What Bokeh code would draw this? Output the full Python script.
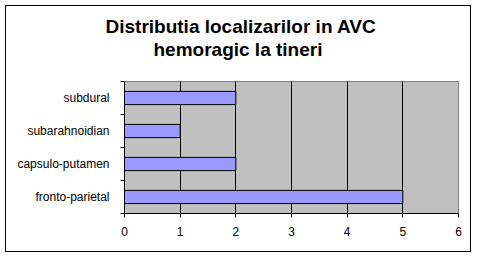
from bokeh.plotting import figure
from bokeh.models import Range1d, FixedTicker, Title, ColumnDataSource
from bokeh.embed import file_html
from bokeh.resources import INLINE

categories = ["fronto-parietal", "capsulo-putamen", "subarahnoidian", "subdural"]
values = [5, 2, 1, 2]
x_ticks = [0, 1, 2, 3, 4, 5, 6]
title_lines = ["Distributia localizarilor in AVC", "hemoragic la tineri"]

FONT = "Liberation Sans"

pos = [i + 0.5 for i in range(len(categories))]
src = ColumnDataSource(dict(y=pos, v=values, cat=categories))

p = figure(width=466, height=247, output_backend="svg", toolbar_location=None,
           x_range=Range1d(0, 6), y_range=Range1d(0, len(categories)),
           min_border_left=118, min_border_right=14, min_border_top=75, min_border_bottom=40,
           background_fill_color="#C0C0C0", border_fill_color="white",
           margin=(5, 5, 5, 5),
           styles={"border": "1px solid black"})
p.outline_line_color = "#808080"
p.outline_line_width = 1

p.hbar(y="y", left=0, right="v", height=0.4, source=src,
       fill_color="#9999FF", line_color="black", line_width=1)

# x axis
p.xaxis.ticker = FixedTicker(ticks=x_ticks)
p.xaxis.axis_line_color = "black"
p.xaxis.major_tick_line_color = "black"
p.xaxis.major_tick_out = 4
p.xaxis.major_tick_in = 0
p.xaxis.minor_tick_line_color = None
p.xaxis.major_label_standoff = 9
p.xaxis.major_label_text_font = FONT
p.xaxis.major_label_text_font_size = "12px"
p.xaxis.major_label_text_color = "black"

# y axis: labels at band centers, ticks at band boundaries
p.yaxis.ticker = FixedTicker(ticks=pos, minor_ticks=list(range(len(categories) + 1)))
p.yaxis.major_label_overrides = {pp: c for pp, c in zip(pos, categories)}
p.yaxis.axis_line_color = "black"
p.yaxis.major_tick_line_color = None
p.yaxis.major_tick_out = 0
p.yaxis.major_tick_in = 0
p.yaxis.minor_tick_line_color = "black"
p.yaxis.minor_tick_out = 4
p.yaxis.minor_tick_in = 0
p.yaxis.major_label_standoff = 11
p.yaxis.major_label_text_font = FONT
p.yaxis.major_label_text_font_size = "12px"
p.yaxis.major_label_text_color = "black"

p.xgrid.ticker = FixedTicker(ticks=[1, 2, 3, 4, 5])
p.xgrid.grid_line_color = "black"
p.xgrid.grid_line_alpha = 1
p.ygrid.grid_line_color = None

# titles: nearest-to-frame first
for txt, off, so, va in [(title_lines[1], 29, 40, "top"), (title_lines[0], -19, -36, "bottom")]:
    p.add_layout(Title(text=txt, align="left", offset=off, standoff=so, vertical_align=va,
                       text_font=FONT, text_font_size="19px",
                       text_font_style="bold", text_color="black"), "above")

open("out.html", "w").write(file_html(p, INLINE))
